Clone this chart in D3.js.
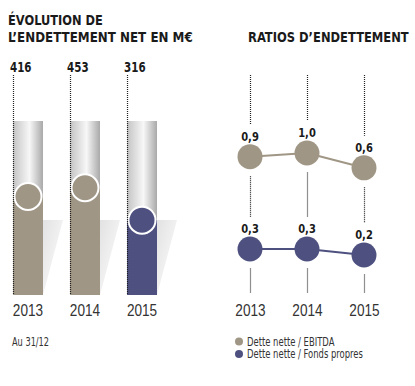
<!DOCTYPE html>
<html>
<head>
<meta charset="utf-8">
<script src="https://cdnjs.cloudflare.com/ajax/libs/d3/7.8.5/d3.min.js"></script>
<style>
  body { margin: 0; background: #fff; }
  svg { font-family: "Liberation Sans Narrow", "DejaVu Sans Condensed", "Roboto", sans-serif; }
</style>
</head>
<body>
<svg width="415" height="386"></svg>
<script>
// data
const years = ['2013', '2014', '2015'];
const debt = [416, 453, 316];
const ebitda = [0.9, 1.0, 0.6];
const fonds = [0.3, 0.3, 0.2];
const ebitdaLabels = ['0,9', '1,0', '0,6'];
const fondsLabels = ['0,3', '0,3', '0,2'];

const taupe = '#a09685';
const navy = '#4e5180';
const ink = '#1a1a1a';

const svg = d3.select('svg');
const defs = svg.append('defs');

// squeeze text horizontally to mimic the condensed face of the original
function condense(sel, k) {
    sel.each(function () {
        const w = this.getComputedTextLength();
        d3.select(this).attr('textLength', w * k).attr('lengthAdjust', 'spacingAndGlyphs');
    });
}

// title squeezed to a target width with a transform
function title(x, y, str, width) {
    const g = svg.append('g');
    const t = g.append('text').attr('x', 0).attr('y', 0)
        .attr('font-size', 14).attr('font-weight', 'bold').attr('fill', ink)
        .text(str);
    const k = width / t.node().getComputedTextLength();
    g.attr('transform', `translate(${x},${y}) scale(${k},1)`);
}

const cyl = defs.append('linearGradient').attr('id', 'cyl');
cyl.append('stop').attr('offset', '0%').attr('stop-color', '#c4c4c4');
cyl.append('stop').attr('offset', '55%').attr('stop-color', '#f7f7f7');
cyl.append('stop').attr('offset', '100%').attr('stop-color', '#a9a9a9');

const shade = defs.append('linearGradient').attr('id', 'shade')
    .attr('x1', 0).attr('y1', 0).attr('x2', 1).attr('y2', 1);
shade.append('stop').attr('offset', '0%').attr('stop-color', '#e2e2e2');
shade.append('stop').attr('offset', '100%').attr('stop-color', '#ffffff');

// titles
title(8, 25, 'ÉVOLUTION DE', 95);
title(8, 42, 'L\u2019ENDETTEMENT NET EN M€', 185);
title(248, 42, 'RATIOS D\u2019ENDETTEMENT', 161);

// left chart: net debt
const xL = d3.scaleBand().domain(years).range([0, 144]).paddingInner(0.474).paddingOuter(0).align(0);
const yL = d3.scaleLinear().domain([0, 735]).range([295, 121]);
const bw = xL.bandwidth();
const gL = svg.append('g').attr('transform', 'translate(13,0)');

const col = gL.selectAll('.col').data(years).enter().append('g')
    .attr('transform', d => `translate(${xL(d)},0)`);

// shadow
col.append('path')
    .attr('d', `M${bw},220 L${bw + 20},220 L${bw},295 Z`)
    .attr('fill', 'url(#shade)');
// cylinder
col.append('rect')
    .attr('x', 0).attr('y', yL.range()[1])
    .attr('width', bw).attr('height', yL(0) - yL.range()[1])
    .attr('fill', 'url(#cyl)');
// value fill
col.append('rect')
    .attr('x', 0).attr('y', (d, i) => yL(debt[i]))
    .attr('width', bw).attr('height', (d, i) => yL(0) - yL(debt[i]))
    .attr('fill', (d, i) => i === 2 ? navy : taupe);
col.append('circle')
    .attr('cx', bw / 2).attr('cy', (d, i) => yL(debt[i]))
    .attr('r', 13.5)
    .attr('fill', (d, i) => i === 2 ? navy : taupe)
    .attr('stroke', '#fff').attr('stroke-width', 2);
// dotted guide
col.append('line')
    .attr('x1', 0.5).attr('x2', 0.5).attr('y1', 75).attr('y2', 295)
    .attr('stroke', '#222').attr('stroke-width', 1.2).attr('stroke-dasharray', '1,1');
col.append('text')
    .attr('x', -3).attr('y', 72)
    .attr('font-size', 14).attr('font-weight', 'bold').attr('fill', ink)
    .text((d, i) => debt[i])
    .call(condense, 0.82);

gL.append('g')
    .attr('transform', 'translate(0,295)')
    .call(d3.axisBottom(xL).tickSize(0).tickPadding(7))
    .call(g => g.select('.domain').remove())
    .call(g => g.selectAll('text').attr('font-size', 17).attr('fill', '#333')
        .attr('font-family', 'inherit').attr('dy', '0.85em').call(condense, 0.8));

// right chart: ratios
const xR = d3.scalePoint().domain(years).range([250, 364]);
const yE = d3.scaleLinear().domain([0, 1]).range([190, 153]);
const yF = d3.scaleLinear().domain([0, 1]).range([267, 207]);
const r = 12.5;
const gR = svg.append('g');

const dotted = (x, y1, y2) => gR.append('line')
    .attr('x1', x + 0.5).attr('x2', x + 0.5).attr('y1', y1).attr('y2', y2)
    .attr('stroke', '#222').attr('stroke-width', 1.2).attr('stroke-dasharray', '1,1');

years.forEach((yr, i) => {
    const x = Math.round(xR(yr));
    const ce = yE(ebitda[i]), cf = yF(fonds[i]);
    dotted(x, 75, ce - 32);
    dotted(x, ce + r + 7, cf - 32);
    dotted(x, cf + r + 7, 293);
});

const series = [
    { vals: ebitda, labels: ebitdaLabels, y: yE, color: taupe },
    { vals: fonds, labels: fondsLabels, y: yF, color: navy }
];
series.forEach(s => {
    gR.append('path')
        .datum(s.vals)
        .attr('d', d3.line().x((d, i) => xR(years[i])).y(d => s.y(d)))
        .attr('fill', 'none').attr('stroke', s.color).attr('stroke-width', 2);
    gR.selectAll(null).data(s.vals).enter().append('circle')
        .attr('cx', (d, i) => xR(years[i])).attr('cy', d => s.y(d))
        .attr('r', r).attr('fill', s.color);
    gR.selectAll(null).data(s.vals).enter().append('text')
        .attr('x', (d, i) => xR(years[i])).attr('y', d => s.y(d) - 16)
        .attr('text-anchor', 'middle')
        .attr('font-size', 13).attr('font-weight', 'bold').attr('fill', ink)
        .text((d, i) => s.labels[i])
        .call(condense, 0.85);
});

gR.append('g')
    .attr('transform', 'translate(0,295)')
    .call(d3.axisBottom(xR).tickSize(0).tickPadding(7))
    .call(g => g.select('.domain').remove())
    .call(g => g.selectAll('text').attr('font-size', 17).attr('fill', '#333')
        .attr('font-family', 'inherit').attr('dy', '0.85em').call(condense, 0.8));

// footnote and legend
svg.append('text').attr('x', 12).attr('y', 345.5)
    .attr('font-size', 12).attr('fill', '#333').text('Au 31/12')
    .call(condense, 0.76);

const legend = [
    { name: 'Dette nette / EBITDA', color: taupe },
    { name: 'Dette nette / Fonds propres', color: navy }
];
const lg = svg.append('g').selectAll('g').data(legend).enter().append('g')
    .attr('transform', (d, i) => `translate(239,${341.5 + i * 12.5})`);
lg.append('circle').attr('r', 4).attr('fill', d => d.color);
lg.append('text').attr('x', 8).attr('y', 4)
    .attr('font-size', 12).attr('fill', '#333').text(d => d.name)
    .call(condense, 0.78);
</script>
</body>
</html>
